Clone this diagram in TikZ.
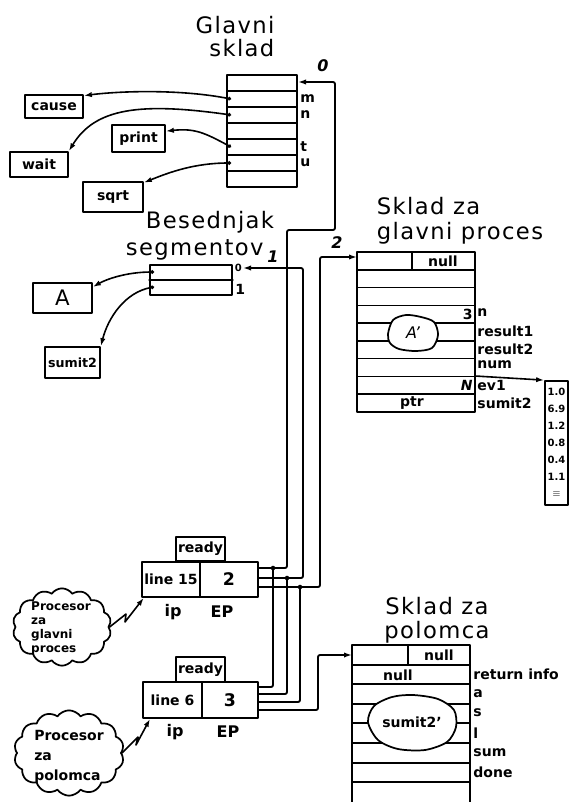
\documentclass[tikz,border=0pt]{standalone}
\usepackage{fontspec}
\setmainfont{DejaVu Sans}
\newfontfamily\ttlfont[LetterSpace=6]{DejaVu Sans}
\usetikzlibrary{arrows.meta,shapes.symbols}
\begin{document}
\begin{tikzpicture}[x=0.75pt,y=-0.75pt,
  line width=1.2pt, line join=round, line cap=round,
  ttl/.style={font=\ttlfont\fontsize{17}{17.5}\selectfont, inner sep=0pt},
  lbl/.style={font=\fontsize{10.5}{12}\selectfont\bfseries, inner sep=0.5pt},
  big/.style={font=\fontsize{12}{13}\selectfont\bfseries, inner sep=0.5pt},
  sml/.style={font=\fontsize{7.5}{8}\selectfont\bfseries, inner sep=0pt},
  bx/.style={draw, line width=1.3pt, inner sep=0pt, font=\fontsize{10.5}{12}\selectfont\bfseries},
  frame/.style={draw, line width=1.3pt, inner sep=0pt},
  arr/.style={-{Latex[length=6pt,width=4pt]}},
  parr/.style={{Circle[length=2.6pt]}-{Latex[length=6pt,width=4pt]}},
  jdot/.style={circle, fill, inner sep=0pt, minimum size=3.4pt},
  blob/.style={draw, fill=white, line width=1.3pt},
  cld/.style={cloud, draw, line width=1.3pt, cloud puffs=14, cloud puff arc=110, cloud ignores aspect, inner sep=0pt},
  wire/.style={line width=1.4pt, rounded corners=1.5pt},
]
\useasboundingbox (0,0) rectangle (575,802);

% ---------- Glavni sklad ----------
\node[ttl, align=right, font=\ttlfont\fontsize{17}{17.25}\selectfont] (tg) at (235,36.5) {Glavni\\sklad};
\node[frame, minimum width=52.5pt, minimum height=84pt] (gs) at (262,131) {};
\foreach \k in {1,...,6} \draw (227,{75+16*\k}) -- (297,{75+16*\k});
\node[lbl, anchor=west] (lm) at (299,99) {m};
\node[lbl, anchor=west] (ln) at (299,115) {n};
\node[lbl, anchor=west] (lt) at (299,147) {t};
\node[lbl, anchor=west] (lu) at (299,163) {u};
\node[big, font=\fontsize{12}{13}\selectfont\bfseries\itshape] (l0) at (323,66) {0};
\coordinate (g2) at (231,99);
\coordinate (g3) at (231,115);
\coordinate (g5) at (231,147);
\coordinate (g6) at (231,163);
\coordinate (g0) at (298,82);

\node[bx, minimum width=43.5pt, minimum height=17.25pt] (cause) at (54,106.5) {cause};
\node[bx, minimum width=43.5pt, minimum height=18.75pt] (wait) at (39,164.5) {wait};
\node[bx, minimum width=39.75pt, minimum height=20.25pt] (print) at (138.5,138.5) {print};
\node[bx, minimum width=45pt, minimum height=22.5pt] (sqrt) at (113,197) {sqrt};

\draw[parr] (g2) .. controls (180,89) and (120,91) .. (cause.20);
\draw[parr] (g3) .. controls (140,102) and (95,108) .. (wait.north east);
\draw[parr] (g5) .. controls (205,133) and (195,128) .. (print.15);
\draw[parr] (g6) .. controls (195,163) and (170,172) .. (sqrt.25);

% ---------- Besednjak segmentov ----------
\node[ttl, align=left, font=\ttlfont\fontsize{17}{20}\selectfont] (tb) at (200,235.5) {\hspace*{15pt}Besednjak\\segmentov};
\node[frame, minimum width=61.5pt, minimum height=22.5pt] (bs) at (191,280) {};
\draw (bs.west) -- (bs.east);
\node[sml, anchor=west] (lb0) at (234,268) {0};
\node[lbl, anchor=west] (lb1) at (234,289) {1};
\coordinate (b0) at (154,272);
\coordinate (b1) at (154,287);
\coordinate (b0in) at (243,268);

\node[bx, minimum width=44.25pt, minimum height=22.5pt, font=\fontsize{16}{17}\selectfont] (A) at (62.5,298) {A};
\node[bx, minimum width=41.25pt, minimum height=23.25pt, font=\fontsize{9.5}{11}\selectfont\bfseries] (sumit) at (72.5,362.5) {sumit2};
\draw[parr] (b0) .. controls (125,272) and (105,280) .. (A.20);
\draw[parr] (b1) .. controls (125,292) and (108,318) .. (sumit.north east);

% ---------- Sklad za glavni proces ----------
\node[ttl, align=left, font=\ttlfont\fontsize{17}{18.75}\selectfont] (ts) at (460,220.5) {Sklad za\\glavni proces};
\node[frame, minimum width=88.5pt, minimum height=120pt] (sg) at (416,332) {};
\foreach \k in {1,...,8} \draw (357,{252+17.78*\k}) -- (475,{252+17.78*\k});
\draw (412,252) -- (412,269.8);
\node[lbl] (sgnull) at (443,261) {null};
\draw[blob] plot[smooth cycle] coordinates {(388,334) (393,320) (406,315) (421,317) (434,322) (438,335) (432,348) (416,351) (399,349) (390,343)};
\node[big, font=\fontsize{12}{13}\selectfont\itshape] (Ap) at (413,333) {A'};
\node[lbl, anchor=east] (l3) at (474,314) {3};
\node[lbl, anchor=east, font=\fontsize{10.5}{12}\selectfont\bfseries\itshape] (lN) at (474,385) {N};
\node[lbl] (lptr) at (412,403) {ptr};
\foreach \t/\y in {n/313, result1/331, result2/349, num/365, ev1/385, sumit2/403}
  \node[lbl, anchor=west] at (476,\y) {\t};

\node[frame, minimum width=17.25pt, minimum height=93pt] (nums) at (556.5,443) {};
\foreach \v [count=\i] in {1.0,6.9,1.2,0.8,0.4,1.1}
  \node[sml] at (556.5,{375+17*\i}) {\v};
\node[sml] (eqv) at (556.5,494) {$\equiv$};
\coordinate (snum) at (475,376);
\draw[arr] (snum) -- (nums.north west);

% ---------- Processors ----------
\node[bx, minimum width=36.75pt, minimum height=18pt] (rd1) at (200.5,549) {ready};
\node[bx, minimum width=43.5pt, minimum height=26.25pt] (ip1) at (171,579.5) {line 15};
\node[bx, minimum width=43.5pt, minimum height=26.25pt, font=\fontsize{13}{14}\selectfont\bfseries] (ep1) at (229,579.5) {2};
\node[big] (lip1) at (173,612) {ip};
\node[big] (lep1) at (222,612) {EP};

\node[bx, minimum width=36.75pt, minimum height=18.75pt] (rd2) at (200.5,669.5) {ready};
\node[bx, minimum width=44.25pt, minimum height=27pt] (ip2) at (172.5,700) {line 6};
\node[bx, minimum width=42pt, minimum height=27pt, font=\fontsize{13}{14}\selectfont\bfseries] (ep2) at (230,700) {3};
\node[big] (lip2) at (175,732) {ip};
\node[big] (lep2) at (228,732) {EP};

\node[cld, minimum width=74pt, minimum height=58pt] (c1) at (62,627) {};
\node[lbl, align=left, font=\fontsize{9}{10.5}\selectfont\bfseries] (c1t) at (61,628) {Procesor\\za\\glavni\\proces};
\node[cld, minimum width=82.5pt, minimum height=64pt] (c2) at (69,753) {};
\node[lbl, align=left, font=\fontsize{10.5}{15}\selectfont\bfseries] (c2t) at (69,757) {Procesor\\za\\polomca};

\draw[arr] (c1.east) -- (126,614) -- (125,622) -- (ip1.214);
\draw[arr] (c2.east) -- (138,737) -- (136,745) -- (ip2.220);

% ---------- wires ----------
\coordinate (p1a) at (258,568);
\coordinate (p1b) at (258,578);
\coordinate (p1c) at (258,587);
\coordinate (sg0) at (357,257);
\draw[wire, arr] (p1a) -- (287,568) -- (287,230) -- (335,230) -- (335,82) -- (g0);
\draw[wire, arr] (p1b) -- (303,578) -- (303,268) -- (b0in);
\draw[wire, arr] (p1c) -- (320,587) -- (320,257) -- (sg0);
\node[big, font=\fontsize{12}{13}\selectfont\bfseries\itshape] (l1) at (273,257) {1};
\node[big, font=\fontsize{12}{13}\selectfont\bfseries\itshape] (l2) at (337,243) {2};

\node[jdot] (j1) at (273,568) {};
\node[jdot] (j2) at (287,578) {};
\node[jdot] (j3) at (300,587) {};
\coordinate (p2a) at (258,687);
\coordinate (p2b) at (258,694);
\coordinate (p2c) at (258,702);
\coordinate (p2d) at (258,710);
\coordinate (sp0) at (352,655);
\draw[wire] (j1.center) |- (p2a);
\draw[wire] (j2.center) |- (p2b);
\draw[wire] (j3.center) |- (p2c);
\draw[wire, arr] (p2d) -- (318,710) -- (318,655) -- (sp0);

% ---------- Sklad za polomca ----------
\node[ttl, align=center, font=\ttlfont\fontsize{17}{18}\selectfont] (tp) at (437,620) {Sklad za\\polomca};
\draw[line width=1.3pt] (352,802) -- (352,645) -- (470,645) -- (470,802);
\foreach \y in {665,684,704,723,743,763,782} \draw (352,\y) -- (470,\y);
\draw (408,645) -- (408,665);
\node[lbl] (spnull1) at (439,655) {null};
\node[lbl] (spnull2) at (398,675) {null};
\draw[blob] plot[smooth cycle] coordinates {(368,722) (374,706) (392,697) (413,695) (438,699) (454,710) (456,727) (447,742) (425,750) (398,749) (378,740)};
\node[lbl] (sumitp) at (412,722) {sumit2'};
\foreach \t/\y in {return info/674, a/694, s/713, l/733, sum/753, done/772}
  \node[lbl, anchor=west] at (472,\y) {\t};
\end{tikzpicture}
\end{document}
